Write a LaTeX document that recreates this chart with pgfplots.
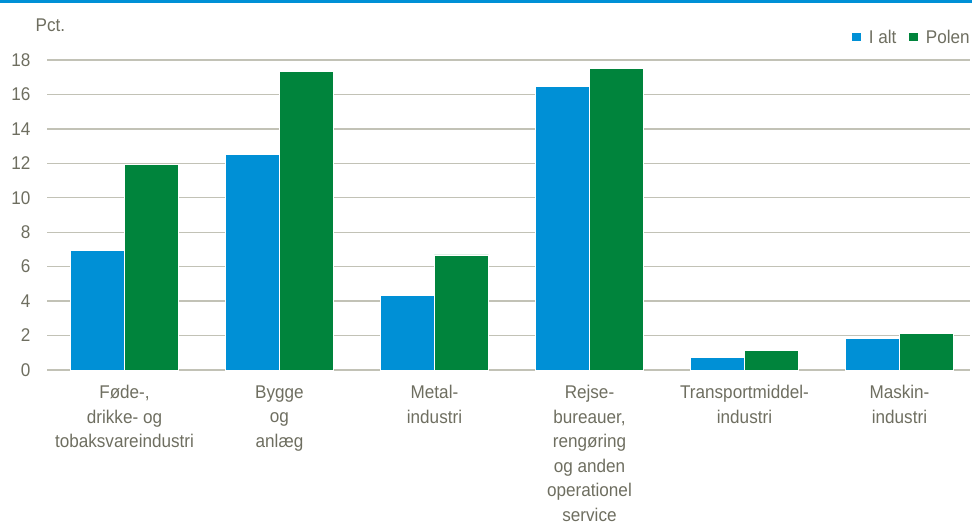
\documentclass[border=0pt]{standalone}
\usepackage{fontspec}
\setmainfont{Liberation Sans}[FakeStretch=0.93]
\usepackage{pgfplots}
\pgfplotsset{compat=1.18}
\definecolor{txt}{HTML}{6E6E60}
\definecolor{grd}{HTML}{C2C2B6}
\definecolor{cblue}{HTML}{0090D6}
\definecolor{cgreen}{HTML}{00843C}
\newcommand{\fs}{\fontsize{13.8}{18.4}\selectfont}
\begin{document}
\begin{tikzpicture}
\useasboundingbox (0pt,0pt) rectangle (729pt,393.75pt);
\clip (0pt,0pt) rectangle (729pt,393.75pt);
\fill[cblue] (0pt,391.5pt) rectangle (729pt,393.75pt);
\begin{axis}[
  at={(35.25pt,116.25pt)}, anchor=south west,
  scale only axis, width=692.25pt, height=232.5pt,
  xmin=-0.5, xmax=5.455, ymin=0, ymax=18,
  ytick={0,2,...,18},
  xtick={0,1,2,3,4,5},
  xticklabels={{Føde-,\\drikke- og\\tobaksvareindustri},{Bygge\\og\\anlæg},{Metal-\\industri},{Rejse-\\bureauer,\\rengøring\\og anden\\operationel\\service},{Transportmiddel-\\industri},{Maskin-\\industri}},
  axis line style={draw=none},
  ymajorgrids, grid style={grd, line width=1pt},
  major tick length=0pt,
  /pgf/number format/assume math mode=true,
  yticklabel style={font=\fs, text=txt, anchor=east, xshift=-9pt},
  xticklabel style={font=\fs, text=txt, align=center, anchor=north, yshift=-8pt},
  ybar=0pt, bar width=0.35,
  legend style={draw=none, fill=none, font=\fs, text=txt, at={(1,1)}, anchor=south east, xshift=2pt, yshift=9pt, legend columns=2, column sep=0pt, inner sep=0pt, /tikz/every odd column/.append style={column sep=3.5pt}, /tikz/every even column/.append style={column sep=7pt}},
  legend image code/.code={\fill[#1] (0cm,-0.11cm) rectangle (0.25cm,0.14cm);},
  clip=false,
]
\addplot[fill=cblue, draw=white, line width=0.6pt] coordinates {(0,6.93) (1,12.5) (2,4.35) (3,16.45) (4,0.73) (5,1.84)};
\addplot[fill=cgreen, draw=white, line width=0.6pt] coordinates {(0,11.96) (1,17.36) (2,6.68) (3,17.52) (4,1.16) (5,2.13)};
\legend{I alt, Polen}
\node[font=\fs, text=txt, anchor=west] at ([xshift=-12pt,yshift=26pt]rel axis cs:0,1) {Pct.};
\end{axis}
\end{tikzpicture}
\end{document}
